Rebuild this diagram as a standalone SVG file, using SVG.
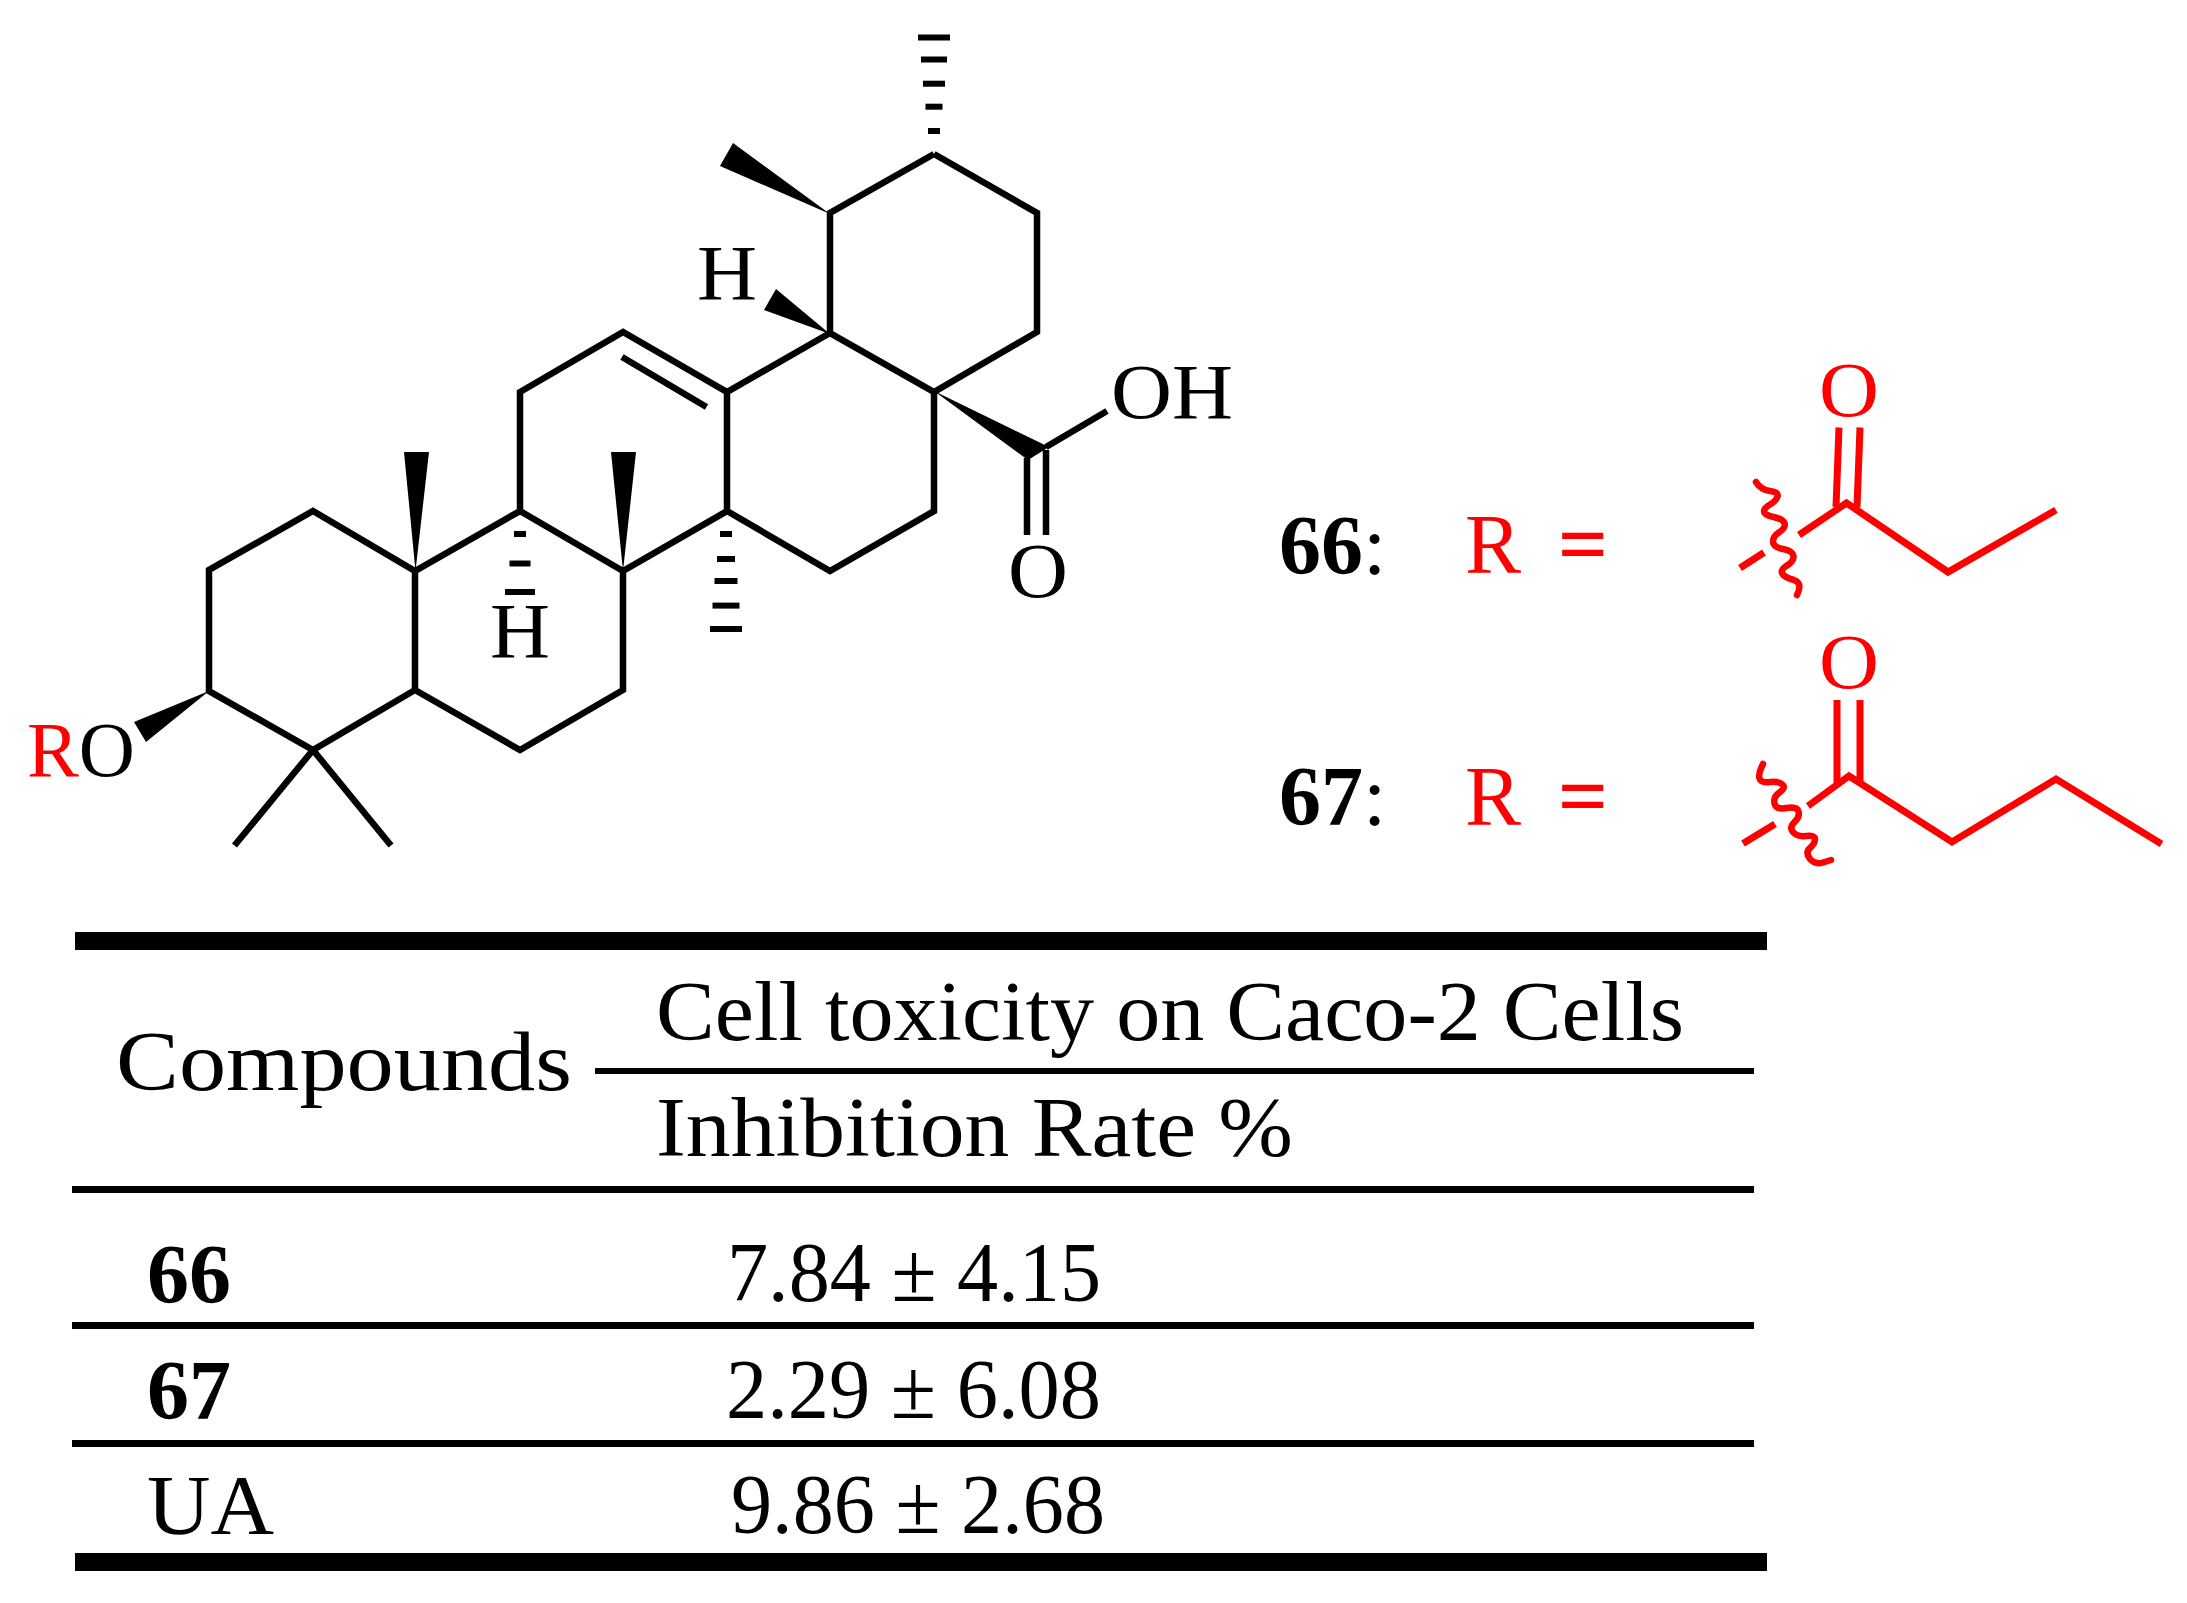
<svg xmlns="http://www.w3.org/2000/svg" width="2187" height="1603" viewBox="0 0 2187 1603">
<style>
text{font-family:"Liberation Serif","Times New Roman",serif;fill:#000}
.a{font-size:78px}
.t{font-size:84px}
.b{font-weight:bold}
.red{fill:#f00}
.eq{stroke:#f00;stroke-width:2}
.bond{fill:none;stroke:#000;stroke-width:6.500;stroke-linejoin:miter;stroke-linecap:butt}
.rbond{fill:none;stroke:#f00;stroke-width:7;stroke-linejoin:miter}
.wave{fill:none;stroke:#f00;stroke-width:6.500;stroke-linejoin:round;stroke-linecap:round}
.rule{fill:#000}
</style>
<rect width="2187" height="1603" fill="#fff"/>
<g id="molecule">
<g id="bonds">
<path class="bond" d="M934 154L830 213V333L934 392L1037 332V213L934 154"/>
<path class="bond" d="M830 333L727 392L623 332L520 392V511L415 571L313 511L209 570V691L313 750L415 690V571M415 690L520 750L623 690V571L520 511M623 571L727 511V392M727 511L830 571L934 511V392"/>
<path class="bond" d="M622 357L706.500 407M313 750L234.500 845.500M313 750L391 845.500M1046 447L1107 411M1027 458V535M1046 450V535"/>
</g>
<g id="wedges">
<polygon points="830,214 733,143 720,166"/>
<polygon points="830,334 776,289 764,310"/>
<polygon points="934,391 1049,447 1028,460"/>
<polygon points="415.500,571 404,452 429,452"/>
<polygon points="623,571 611,452 636,452"/>
<polygon points="209,691 134,722 146,742"/>
</g>
<g id="hashes" fill="#000">
<rect x="918" y="34.500" width="32" height="6"/><rect x="921" y="56.500" width="26" height="6"/><rect x="923" y="80.700" width="22" height="6"/><rect x="925.500" y="103.700" width="17" height="6"/><rect x="928" y="128" width="12" height="6"/>
<rect x="514" y="531" width="12" height="6"/><rect x="509.500" y="560.500" width="21" height="6"/><rect x="505" y="589" width="30" height="6"/>
<rect x="720" y="531" width="12" height="6"/><rect x="717" y="556" width="18" height="6"/><rect x="714.500" y="578" width="23" height="6"/><rect x="712.500" y="602.600" width="27" height="6"/><rect x="710" y="626" width="32" height="6"/>
</g>
<g id="atoms">
<text class="a" x="697" y="299" textLength="60" lengthAdjust="spacingAndGlyphs">H</text>
<text class="a" x="490" y="657" textLength="60" lengthAdjust="spacingAndGlyphs">H</text>
<text class="a" x="1111" y="418" textLength="122" lengthAdjust="spacingAndGlyphs">OH</text>
<text class="a" x="1008" y="597" textLength="60" lengthAdjust="spacingAndGlyphs">O</text>
<text class="a" x="27" y="776" textLength="108" lengthAdjust="spacingAndGlyphs"><tspan class="red">R</tspan>O</text>
</g>
</g>
<g id="substituent-66">
<text class="t b" x="1279" y="574">66<tspan font-weight="normal">:</tspan></text>
<text class="t red" x="1465" y="573">R</text>
<text class="t red eq" x="1559" y="573">=</text>
<text class="a red" x="1819" y="416" textLength="60" lengthAdjust="spacingAndGlyphs">O</text>
<path class="rbond" d="M1839 427.500L1836 507M1860 427.500L1857 507M1799 535L1846.500 503L1948 572L2056 510M1764 552.500L1740 568"/>
<path class="wave" d="M1756 482Q1761 490 1770 491Q1779 492 1777.500 496.500Q1776 501 1770 504.500Q1764 508 1764 511.500Q1764 515 1773.500 517Q1783 519 1784.500 523Q1786 527.500 1779.500 532Q1773 536 1773 541.500Q1773 547 1783 549Q1793 551 1793.500 556Q1794 561 1787 565.500Q1780 570 1782.500 574Q1785 577.500 1794 580Q1803 583 1797 595"/>
</g>
<g id="substituent-67">
<text class="t b" x="1279" y="825">67<tspan font-weight="normal">:</tspan></text>
<text class="t red" x="1465" y="825">R</text>
<text class="t red eq" x="1559" y="825">=</text>
<text class="a red" x="1819" y="688" textLength="60" lengthAdjust="spacingAndGlyphs">O</text>
<path class="rbond" d="M1837 700V783M1860 700V783M1808 806L1849 776L1952 842L2056 779L2161.500 844M1775 824L1743 843.600"/>
<path class="wave" d="M1763 764Q1758 774 1759.500 778.500Q1761 783 1770 782Q1779 781 1782.500 784.500Q1786 788 1779.500 792.500Q1773 797 1774.500 803.500Q1776 810 1786.500 808Q1797 806 1798.500 811.500Q1800 817 1794.500 822Q1789 827.500 1793 832Q1797 837 1806 836Q1815 835 1815 839Q1815 843.500 1810 848Q1805 852.500 1810 859Q1815 865 1823 862.500L1831 860"/>
</g>
<g id="table">
<rect class="rule" x="75" y="932" width="1692" height="18"/>
<rect class="rule" x="595" y="1068" width="1159" height="6"/>
<rect class="rule" x="72" y="1186" width="1682" height="7"/>
<rect class="rule" x="72" y="1322" width="1682" height="7"/>
<rect class="rule" x="72" y="1440" width="1682" height="7"/>
<rect class="rule" x="75" y="1553" width="1692" height="18"/>
<text class="t" x="116" y="1090" textLength="456" lengthAdjust="spacingAndGlyphs">Compounds</text>
<text class="t" x="656" y="1040" textLength="1028" lengthAdjust="spacingAndGlyphs">Cell toxicity on Caco-2 Cells</text>
<text class="t" x="656" y="1156" textLength="637" lengthAdjust="spacingAndGlyphs">Inhibition Rate %</text>
<text class="t b" x="147" y="1303" textLength="84" lengthAdjust="spacingAndGlyphs">66</text>
<text class="t" x="727" y="1301" textLength="374" lengthAdjust="spacingAndGlyphs">7.84 ± 4.15</text>
<text class="t b" x="147" y="1419" textLength="84" lengthAdjust="spacingAndGlyphs">67</text>
<text class="t" x="726" y="1418" textLength="375" lengthAdjust="spacingAndGlyphs">2.29 ± 6.08</text>
<text class="t" x="147" y="1534" textLength="127" lengthAdjust="spacingAndGlyphs">UA</text>
<text class="t" x="731" y="1533" textLength="374" lengthAdjust="spacingAndGlyphs">9.86 ± 2.68</text>
</g>
</svg>
